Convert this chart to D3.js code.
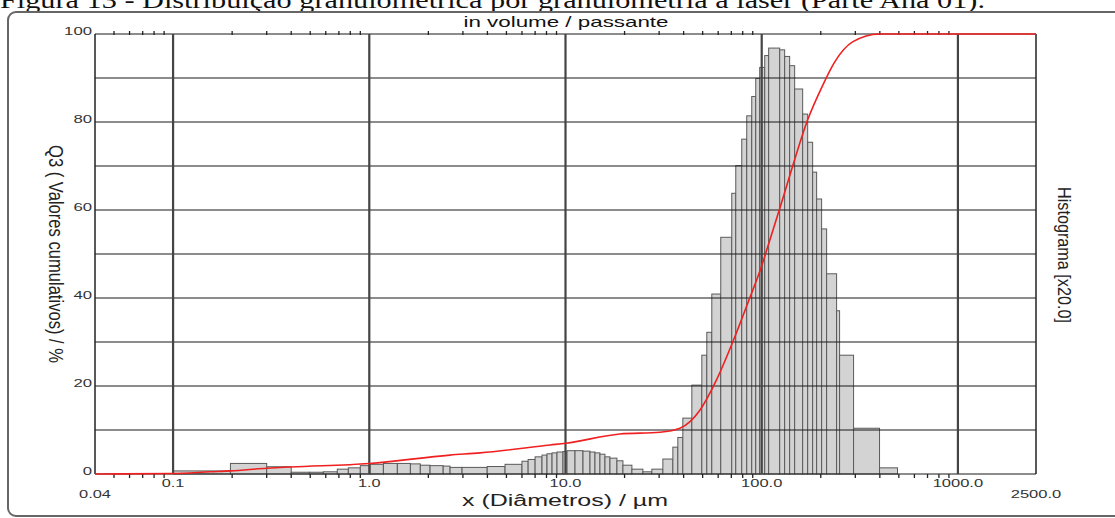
<!DOCTYPE html>
<html><head><meta charset="utf-8">
<script src="https://cdn.jsdelivr.net/npm/d3@7/dist/d3.min.js"></script>
<style>html,body{margin:0;padding:0;background:#fff;overflow:hidden}</style>
</head><body>
<svg id="c" width="1115" height="518"></svg>
<script>
// ---- data ----
const binEdges = [0.1, 0.196, 0.30, 0.40, 0.495, 0.583, 0.687, 0.782, 0.90, 1.01, 1.18, 1.39, 1.62, 1.82, 2.04, 2.38, 2.58, 2.97, 3.99, 4.92, 6.0, 6.45, 7.0, 7.59, 8.05, 8.54, 9.05, 9.71, 10.18, 11.18, 12.28, 13.33, 14.13, 14.98, 15.89, 16.85, 18.29, 19.62, 21.8, 24.8, 27.55, 31.35, 35.25, 37.37, 39.63, 44.04, 49.52, 52.5, 55.67, 61.84, 70.36, 73.75, 79.12, 83.89, 88.96, 93.23, 97.68, 103.6, 108.5, 123.5, 130.9, 138.8, 147.2, 161.7, 171.5, 181.8, 190.5, 202.0, 214.2, 240.8, 249.4, 293.9, 398.6, 492.1];
const binValues = [0.7, 2.4, 1.65, 0.4, 0.4, 0.5, 1.1, 1.4, 1.9, 2.2, 2.4, 2.4, 2.3, 2.0, 1.9, 1.8, 1.5, 1.5, 1.7, 2.2, 2.9, 3.3, 3.9, 4.3, 4.6, 4.8, 5.0, 5.1, 5.3, 5.3, 5.2, 5.0, 4.8, 4.5, 3.9, 3.6, 3.0, 2.0, 1.1, 0.5, 1.1, 3.4, 6.1, 8.3, 12.7, 20.2, 27.0, 32.2, 40.9, 53.8, 63.8, 70.1, 76.1, 81.4, 85.8, 89.9, 92.4, 95.1, 96.8, 96.4, 94.9, 92.8, 87.5, 81.8, 75.4, 68.6, 62.5, 55.7, 45.5, 37.1, 27.0, 10.4, 1.4];
const cumSizes = [0.04, 0.1, 0.155, 0.196, 0.30, 0.40, 1.0, 2.58, 3.67, 8.34, 10.06, 18.9, 30.3, 38.3, 48.4, 59.0, 71.2, 86.9, 97.7, 112.4, 127.9, 143.8, 171.5, 204.4, 235.3, 290.5, 398.6, 2500];
const cumValues = [0, 0.1, 0.5, 0.7, 1.3, 1.6, 2.4, 4.3, 4.8, 6.6, 7.0, 9.1, 9.5, 10.4, 14.5, 21.5, 30.0, 40.0, 46.0, 54.5, 62.5, 70.0, 80.5, 88.3, 93.6, 98.2, 100, 100];
const yTicks = [0, 20, 40, 60, 80, 100];
const xMajor = [0.1, 1, 10, 100, 1000];
const xLabels = [["0.04", 0.04, 1], ["0.1", 0.1, 0], ["1.0", 1, 0], ["10.0", 10, 0], ["100.0", 100, 0], ["1000.0", 1000, 0], ["2500.0", 2500, 1]];
const captionText = "Figura 13 - Distribuição granulométrica por granulometria a laser (Parte Ana 01).";
const titleText = "in volume / passante";
const xTitle = "x (Diâmetros) / µm";
const yTitle = "Q3 ( Valores cumulativos) / %";
const y2Title = "Histograma [x20.0]";

const svg = d3.select("#c");
const x = d3.scaleLog().domain([0.04, 2500]).range([95, 1036]);
const y = d3.scaleLinear().domain([0, 100]).range([474, 34]);
const sans = "'Liberation Sans', Arial, sans-serif";

// caption (cut at top)
svg.append("text").attr("x", 0).attr("y", 8).attr("font-family", "'Liberation Serif', 'Times New Roman', serif")
  .attr("font-size", 24).attr("fill", "#111").attr("textLength", 985).attr("lengthAdjust", "spacingAndGlyphs").text(captionText);

// outer frame
svg.append("rect").attr("x", 8).attr("y", 12).attr("width", 1120).attr("height", 504).attr("rx", 8)
  .attr("fill", "#fff").attr("stroke", "#666").attr("stroke-width", 2);

// histogram bars
const bars = binValues.map((v, i) => ({x0: binEdges[i], x1: binEdges[i + 1], v}));
svg.append("g").selectAll("rect").data(bars).join("rect")
  .attr("x", d => x(d.x0)).attr("width", d => x(d.x1) - x(d.x0))
  .attr("y", d => y(d.v)).attr("height", d => y(0) - y(d.v))
  .attr("fill", "#d3d3d3").attr("stroke", "#5a5a5a").attr("stroke-width", 1);

// horizontal grid
svg.append("g").selectAll("line").data(d3.range(0, 101, 10)).join("line")
  .attr("x1", x(0.04)).attr("x2", x(2500)).attr("y1", d => y(d)).attr("y2", d => y(d))
  .attr("stroke", "#1a1a1a").attr("stroke-width", 1.2);
// vertical decade lines
svg.append("g").selectAll("line").data(xMajor).join("line")
  .attr("x1", d => x(d)).attr("x2", d => x(d)).attr("y1", y(100)).attr("y2", y(0))
  .attr("stroke", "#444").attr("stroke-width", 2.2);
// plot border sides
svg.append("g").selectAll("line").data([0.04, 2500]).join("line")
  .attr("x1", d => x(d)).attr("x2", d => x(d)).attr("y1", y(100)).attr("y2", y(0))
  .attr("stroke", "#222").attr("stroke-width", 1.5);

// minor ticks top and bottom
const minors = [];
[0.01, 0.1, 1, 10, 100].forEach(dec => { for (let k = 2; k <= 9; k++) { const v = dec * k; if (v > 0.04 && v < 2500) minors.push(v); } });
svg.append("g").selectAll("line").data(minors).join("line")
  .attr("x1", d => x(d)).attr("x2", d => x(d)).attr("y1", y(100) - 3).attr("y2", y(100) + 1)
  .attr("stroke", "#222").attr("stroke-width", 1.3);
svg.append("g").selectAll("line").data(minors).join("line")
  .attr("x1", d => x(d)).attr("x2", d => x(d)).attr("y1", y(0)).attr("y2", y(0) + 4)
  .attr("stroke", "#222").attr("stroke-width", 1.3);

// cumulative line
const line = d3.line().x((d, i) => x(cumSizes[i])).y(d => y(d)).curve(d3.curveMonotoneX);
svg.append("path").attr("d", line(cumValues)).attr("fill", "none").attr("stroke", "#f02020").attr("stroke-width", 1.6);

// y tick labels
svg.append("g").selectAll("text").data(yTicks).join("text")
  .attr("x", 92).attr("y", d => y(d) + 1).attr("text-anchor", "end")
  .attr("font-family", sans).attr("font-size", 11).attr("fill", "#333")
  .attr("textLength", d => String(d).length * 9.3).attr("lengthAdjust", "spacingAndGlyphs")
  .text(d => d);

// x tick labels
svg.append("g").selectAll("text").data(xLabels).join("text")
  .attr("x", d => x(d[1])).attr("y", d => d[2] ? 498 : 487).attr("text-anchor", "middle")
  .attr("font-family", sans).attr("font-size", 11).attr("fill", "#333")
  .attr("textLength", d => d[0].replace(".", "").length * 9.3 + 4).attr("lengthAdjust", "spacingAndGlyphs")
  .text(d => d[0]);

// titles
svg.append("text").attr("x", 566).attr("y", 27).attr("text-anchor", "middle")
  .attr("font-family", sans).attr("font-size", 15).attr("fill", "#111")
  .attr("textLength", 205).attr("lengthAdjust", "spacingAndGlyphs").text(titleText);
svg.append("text").attr("x", 565).attr("y", 506).attr("text-anchor", "middle")
  .attr("font-family", sans).attr("font-size", 16).attr("fill", "#222")
  .attr("textLength", 206).attr("lengthAdjust", "spacingAndGlyphs").text(xTitle);
svg.append("text").attr("transform", "translate(49,254) scale(1.35,1) rotate(90)").attr("text-anchor", "middle")
  .attr("font-family", sans).attr("font-size", 15).attr("fill", "#222")
  .attr("textLength", 218).attr("lengthAdjust", "spacingAndGlyphs").text(yTitle);
svg.append("text").attr("transform", "translate(1058,255) scale(1.35,1) rotate(90)").attr("text-anchor", "middle")
  .attr("font-family", sans).attr("font-size", 14).attr("fill", "#222")
  .attr("textLength", 136).attr("lengthAdjust", "spacingAndGlyphs").text(y2Title);
</script>
</body></html>
